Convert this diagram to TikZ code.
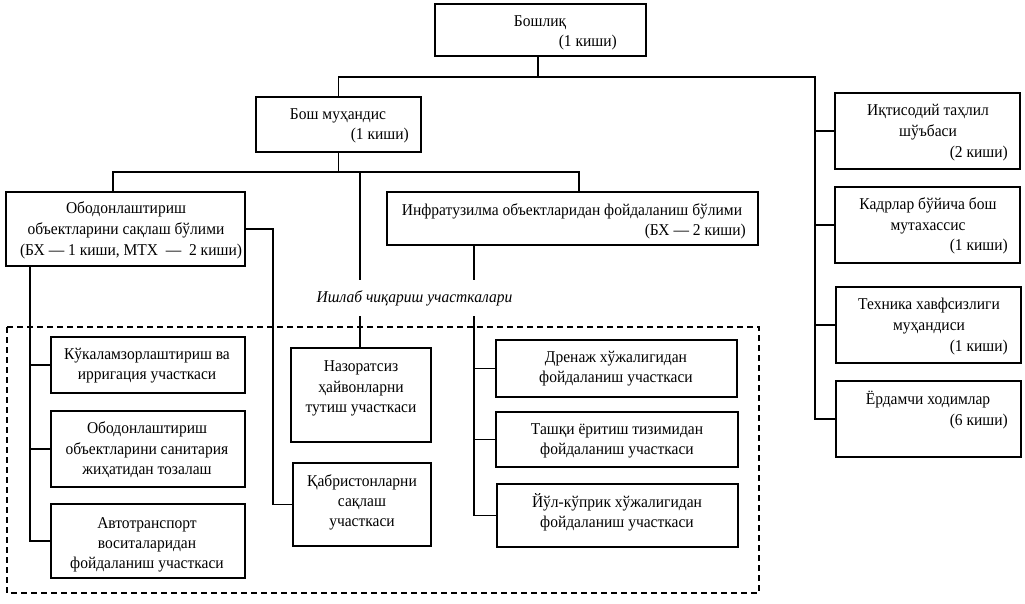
\documentclass[tikz,border=0pt]{standalone}
\usepackage{fontspec}
\setmainfont{Liberation Serif}[FakeStretch=0.94]
\begin{document}
\begin{tikzpicture}[x=1pt,y=-1pt,
  box/.style={draw,line width=1.7pt,inner sep=0pt,fill=white},
  conn/.style={line width=1.7pt},
  txt/.style={inner sep=0pt,font=\fontsize{16.5}{20}\selectfont},
  tc/.style={txt,anchor=base},
  te/.style={txt,anchor=base east}]
\useasboundingbox[fill=white] (0,0) rectangle (1025,604);
% dashed frame
\draw[line width=1.5pt,dash pattern=on 6pt off 4pt] (7,327) rectangle (759,593);
% boxes
\node[box,minimum width=211pt,minimum height=52pt] (top) at (540.5,30) {};
\node[box,minimum width=165pt,minimum height=55pt] (be) at (338.5,124.5) {};
\node[box,minimum width=239pt,minimum height=74pt] (ob) at (125.5,229) {};
\node[box,minimum width=371pt,minimum height=53pt] (ifr) at (572.5,218.5) {};
\node[box,minimum width=194pt,minimum height=56pt] (k1) at (148,365) {};
\node[box,minimum width=194pt,minimum height=76pt] (k2) at (148,449) {};
\node[box,minimum width=194pt,minimum height=74pt] (k3) at (148,541) {};
\node[box,minimum width=140pt,minimum height=94pt] (nz) at (361,395) {};
\node[box,minimum width=138pt,minimum height=83pt] (qb) at (362,504.5) {};
\node[box,minimum width=241pt,minimum height=57pt] (dr) at (616.5,368.5) {};
\node[box,minimum width=242pt,minimum height=55pt] (ts) at (617,439.5) {};
\node[box,minimum width=241pt,minimum height=63pt] (yl) at (617.5,515.5) {};
\node[box,minimum width=185pt,minimum height=76pt] (rb1) at (927.5,131) {};
\node[box,minimum width=185pt,minimum height=76pt] (rb2) at (927.5,225) {};
\node[box,minimum width=185pt,minimum height=76pt] (rb3) at (928.5,325) {};
\node[box,minimum width=185pt,minimum height=76pt] (rb4) at (928.5,419) {};
% label
\node[txt,font=\fontsize{16.5}{20}\selectfont\itshape,minimum height=36pt] (lbl) at (414.5,298) {Ишлаб чиқариш участкалари};
% coordinates
\coordinate (rv) at (815,77);
\coordinate (b2l) at (113,172);
\coordinate (b2r) at (579,172);
\coordinate (m1) at (360,172);
\coordinate (m2) at (474,0);
\coordinate (lt) at (30,0);
\coordinate (ov) at (273,0);
\coordinate (tj) at (538,0);
% connectors
\draw[conn] (tj |- top.south) -- (tj |- rv);
\draw[conn] (be.north) |- (rv) |- (rb4.west);
\draw[conn] (rb1.west) -- (rb1.west -| rv);
\draw[conn] (rb2.west) -- (rb2.west -| rv);
\draw[conn] (rb3.west) -- (rb3.west -| rv);
\draw[conn] (be.south) -- (be.south |- b2l);
\draw[conn] (b2l |- ob.north) -- (b2l) -- (b2r) -- (b2r |- ifr.north);
\draw[conn] (m1) -- (m1 |- lbl.north);
\draw[conn] (m2 |- ifr.south) -- (m2 |- lbl.north);
\draw[conn] (m1 |- lbl.south) -- (m1 |- nz.north);
\draw[conn] (m2 |- lbl.south) |- (yl.west);
\draw[conn] (dr.west) -- (dr.west -| m2);
\draw[conn] (ts.west) -- (ts.west -| m2);
\draw[conn] (lt |- ob.south) |- (k3.west);
\draw[conn] (k1.west) -- (k1.west -| lt);
\draw[conn] (k2.west) -- (k2.west -| lt);
\draw[conn] (ob.east) -| (ov |- qb.west) -- (qb.west);
% texts
\node[tc] (t1) at (540,27) {Бошлиқ};
\node[te] (t2) at (617,47) {(1 киши)};
\node[tc] (be1) at (338,120) {Бош муҳандис};
\node[te] (be2) at (409,140) {(1 киши)};
\node[tc] (ob1) at (126,214) {Ободонлаштириш};
\node[tc] (ob2) at (126,234) {объектларини сақлаш бўлими};
\node[tc] (ob3) at (131,255) {(БХ — 1 киши, МТХ \ — \ 2 киши)};
\node[tc] (if1) at (572,215) {Инфратузилма объектларидан фойдаланиш бўлими};
\node[te] (if2) at (746,235) {(БХ — 2 киши)};
\node[tc] (k1a) at (147,359) {Кўкаламзорлаштириш ва};
\node[tc] (k1b) at (147,379) {ирригация участкаси};
\node[tc] (k2a) at (147,433) {Ободонлаштириш};
\node[tc] (k2b) at (147,454) {объектларини санитария};
\node[tc] (k2c) at (147,474) {жиҳатидан тозалаш};
\node[tc] (k3a) at (147,528) {Автотранспорт};
\node[tc] (k3b) at (147,548) {воситаларидан};
\node[tc] (k3c) at (147,568) {фойдаланиш участкаси};
\node[tc] (nza) at (361,371) {Назоратсиз};
\node[tc] (nzb) at (361,392) {ҳайвонларни};
\node[tc] (nzc) at (361,412) {тутиш участкаси};
\node[tc] (qba) at (362,486) {Қабристонларни};
\node[tc] (qbb) at (362,506) {сақлаш};
\node[tc] (qbc) at (362,526) {участкаси};
\node[tc] (dra) at (616,362) {Дренаж хўжалигидан};
\node[tc] (drb) at (616,382) {фойдаланиш участкаси};
\node[tc] (tsa) at (617,434) {Ташқи ёритиш тизимидан};
\node[tc] (tsb) at (617,454) {фойдаланиш участкаси};
\node[tc] (yla) at (617,507) {Йўл-кўприк хўжалигидан};
\node[tc] (ylb) at (617,527) {фойдаланиш участкаси};
\node[tc] (r1a) at (928,116) {Иқтисодий таҳлил};
\node[tc] (r1b) at (928,137) {шўъбаси};
\node[te] (r1c) at (1008,158) {(2 киши)};
\node[tc] (r2a) at (928,210) {Кадрлар бўйича бош};
\node[tc] (r2b) at (928,230) {мутахассис};
\node[te] (r2c) at (1008,250) {(1 киши)};
\node[tc] (r3a) at (929,309) {Техника хавфсизлиги};
\node[tc] (r3b) at (929,330) {муҳандиси};
\node[te] (r3c) at (1008,351) {(1 киши)};
\node[tc] (r4a) at (928,404) {Ёрдамчи ходимлар};
\node[te] (r4c) at (1008,425) {(6 киши)};
\end{tikzpicture}
\end{document}
